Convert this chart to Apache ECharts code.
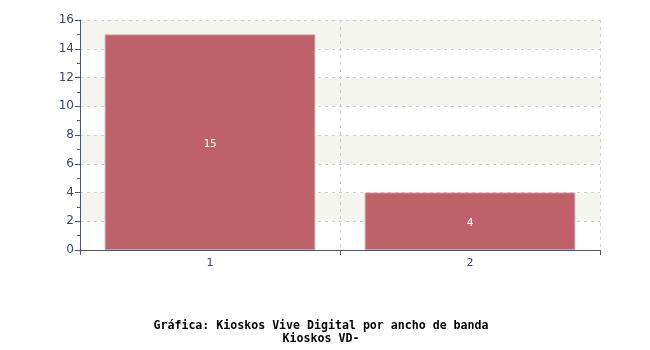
<!DOCTYPE html>
<html><head><meta charset="utf-8">
<script src="https://cdn.jsdelivr.net/npm/echarts@6/dist/echarts.min.js"></script>
<style>html,body{margin:0;padding:0;background:#fff}#c{width:650px;height:350px}</style>
</head><body><div id="c"></div>
<script>
const categories = ['1', '2'];
const values = [15, 4];
const titleLines = ['Gráfica: Kioskos Vive Digital por ancho de banda', 'Kioskos VD-'];

const chart = echarts.init(document.getElementById('c'), null, {renderer: 'canvas'});
const axisColor = '#4a5578';
chart.setOption({
  animation: false,
  backgroundColor: '#ffffff',
  title: {
    text: titleLines.join('\n'),
    left: 316, top: 314, textAlign: 'center',
    textStyle: {fontFamily: 'DejaVu Sans Mono', fontWeight: 'bold', fontSize: 11.6, color: '#000', lineHeight: 13}
  },
  grid: {left: 80, right: 50, top: 20, bottom: 100},
  xAxis: {
    type: 'category', data: categories,
    axisLine: {lineStyle: {color: axisColor, width: 1}},
    axisTick: {show: true, alignWithLabel: false, length: 5, lineStyle: {color: axisColor}},
    axisLabel: {color: '#3a4766', fontFamily: 'DejaVu Sans', fontSize: 11, margin: 8},
    splitLine: {show: true, lineStyle: {color: '#d0d0d0', type: [3, 4]}},
  },
  yAxis: {
    type: 'value', min: 0, max: 16, interval: 2,
    axisLine: {show: true, lineStyle: {color: axisColor, width: 1}},
    axisTick: {show: true, length: 5, lineStyle: {color: axisColor}},
    minorTick: {show: true, splitNumber: 2, length: 3, lineStyle: {color: axisColor}},
    axisLabel: {color: '#3a4766', fontFamily: 'DejaVu Sans', fontSize: 12, margin: 6},
    splitLine: {show: true, lineStyle: {color: '#d0d0d0', type: [3, 4]}},
    splitArea: {show: true, areaStyle: {color: ['#ffffff', '#f5f5f0']}}
  },
  series: [{
    type: 'bar', data: values, barWidth: '81%',
    itemStyle: {color: '#be616b', borderColor: '#c8a0a5', borderWidth: 1},
    label: {show: true, position: 'inside', offset: [0, 2], color: '#ffffff', fontFamily: 'DejaVu Sans Mono', fontSize: 11}
  }]
});
</script></body></html>
